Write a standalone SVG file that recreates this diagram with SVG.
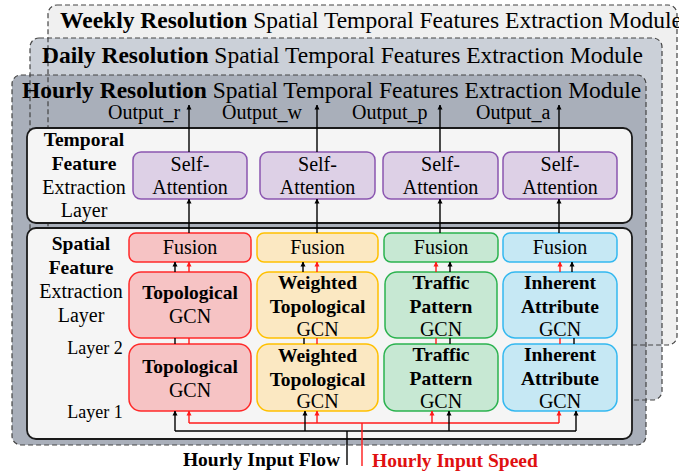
<svg xmlns="http://www.w3.org/2000/svg" width="679" height="474" viewBox="0 0 679 474" font-family="'Liberation Serif', 'Times New Roman', serif">
<defs>
<style>
text{font-family:'Liberation Serif','Times New Roman',serif;fill:#000}
.title{font-size:23.5px}
.b{font-weight:bold}
.lab{font-size:20px}
.blab{font-size:19.5px;font-weight:bold}
.sm{font-size:18px}
.dash{fill:none;stroke:#444;stroke-width:1.2;stroke-dasharray:5 3}
.panel{fill:#f5f5f5;stroke:#1a1a1a;stroke-width:1.8}
.sa{fill:#ddd0e6;stroke:#8a55b0;stroke-width:1.5}
.c1{fill:#f6c3c4;stroke:#ff2a2a;stroke-width:1.5}
.c2{fill:#fbe8c2;stroke:#ffc000;stroke-width:1.5}
.c3{fill:#c7e8d3;stroke:#2bb24f;stroke-width:1.5}
.c4{fill:#c6e8f4;stroke:#33b8f0;stroke-width:1.5}
.k{stroke:#000;stroke-width:1.4;fill:none}
.r{stroke:#ff1a1a;stroke-width:1.4;fill:none}
</style>
<marker id="ak" viewBox="0 0 10 10" refX="9" refY="5" markerWidth="5" markerHeight="6" markerUnits="userSpaceOnUse" orient="auto"><path d="M0,0 L10,5 L0,10 z" fill="#000"/></marker>
<marker id="ar" viewBox="0 0 10 10" refX="9" refY="5" markerWidth="5" markerHeight="6" markerUnits="userSpaceOnUse" orient="auto"><path d="M0,0 L10,5 L0,10 z" fill="#ff1a1a"/></marker>
</defs>

<g id="modules">
<rect x="48" y="5" width="629" height="340" rx="9" fill="#f0f0f0"/>
<rect x="30" y="38" width="632" height="362" rx="9" fill="#cbd0d8"/>
<rect x="12" y="75" width="634" height="370" rx="9" fill="#a9afba"/>
<rect class="dash" x="48" y="5" width="629" height="340" rx="9"/>
<rect class="dash" x="30" y="38" width="632" height="362" rx="9"/>
<rect class="dash" x="12" y="75" width="634" height="370" rx="9"/>
<text class="title" x="60" y="28"><tspan class="b">Weekly Resolution</tspan> Spatial Temporal Features Extraction Module</text>
<text class="title" x="42" y="63"><tspan class="b">Daily Resolution</tspan> Spatial Temporal Features Extraction Module</text>
<text class="title" x="22" y="98"><tspan class="b">Hourly Resolution</tspan> Spatial Temporal Features Extraction Module</text>
</g>

<g id="temporal-layer">
<rect class="panel" x="27" y="128" width="605" height="95" rx="9"/>
<text class="blab" x="84" y="146" text-anchor="middle">Temporal</text>
<text class="blab" x="84" y="170" text-anchor="middle">Feature</text>
<text class="lab" x="84" y="194" text-anchor="middle">Extraction</text>
<text class="lab" x="84" y="217" text-anchor="middle">Layer</text>
</g>

<g id="spatial-layer">
<rect class="panel" x="27" y="228" width="605" height="211" rx="9"/>
<text class="blab" x="81" y="250" text-anchor="middle">Spatial</text>
<text class="blab" x="81" y="274" text-anchor="middle">Feature</text>
<text class="lab" x="81" y="298" text-anchor="middle">Extraction</text>
<text class="lab" x="81" y="322" text-anchor="middle">Layer</text>
<text class="sm" x="95" y="354" text-anchor="middle">Layer 2</text>
<text class="sm" x="95" y="418" text-anchor="middle">Layer 1</text>
</g>

<g id="outputs">
<text class="lab" x="108" y="119">Output_r</text>
<text class="lab" x="222" y="119">Output_w</text>
<text class="lab" x="352" y="119">Output_p</text>
<text class="lab" x="476" y="119">Output_a</text>
</g>

<g id="sa1"><rect class="sa" x="133" y="152" width="114" height="47" rx="8"/><text class="lab" x="190" y="171" text-anchor="middle">Self-</text><text class="lab" x="190" y="194" text-anchor="middle">Attention</text></g>
<g id="sa2"><rect class="sa" x="260" y="152" width="115" height="47" rx="8"/><text class="lab" x="317.5" y="171" text-anchor="middle">Self-</text><text class="lab" x="317.5" y="194" text-anchor="middle">Attention</text></g>
<g id="sa3"><rect class="sa" x="383" y="152" width="115" height="47" rx="8"/><text class="lab" x="440.5" y="171" text-anchor="middle">Self-</text><text class="lab" x="440.5" y="194" text-anchor="middle">Attention</text></g>
<g id="sa4"><rect class="sa" x="503" y="152" width="114" height="47" rx="8"/><text class="lab" x="560" y="171" text-anchor="middle">Self-</text><text class="lab" x="560" y="194" text-anchor="middle">Attention</text></g>

<g id="fusion1"><rect class="c1" x="129" y="233" width="122" height="29" rx="7"/><text class="lab" x="190" y="254" text-anchor="middle">Fusion</text></g>
<g id="fusion2"><rect class="c2" x="257" y="233" width="121" height="29" rx="7"/><text class="lab" x="317.5" y="254" text-anchor="middle">Fusion</text></g>
<g id="fusion3"><rect class="c3" x="384" y="233" width="114" height="29" rx="7"/><text class="lab" x="441" y="254" text-anchor="middle">Fusion</text></g>
<g id="fusion4"><rect class="c4" x="503" y="233" width="114" height="29" rx="7"/><text class="lab" x="560" y="254" text-anchor="middle">Fusion</text></g>

<g id="gcn2-1"><rect class="c1" x="129" y="272" width="122" height="66" rx="12"/><text class="blab" x="190" y="299" text-anchor="middle">Topological</text><text class="lab" x="190" y="323" text-anchor="middle">GCN</text></g>
<g id="gcn2-2"><rect class="c2" x="257" y="272" width="121" height="66" rx="12"/><text class="blab" x="317.5" y="289" text-anchor="middle">Weighted</text><text class="blab" x="317.5" y="313" text-anchor="middle">Topological</text><text class="lab" x="317.5" y="336" text-anchor="middle">GCN</text></g>
<g id="gcn2-3"><rect class="c3" x="385" y="272" width="112" height="66" rx="12"/><text class="blab" x="441" y="289" text-anchor="middle">Traffic</text><text class="blab" x="441" y="313" text-anchor="middle">Pattern</text><text class="lab" x="441" y="336" text-anchor="middle">GCN</text></g>
<g id="gcn2-4"><rect class="c4" x="503" y="272" width="114" height="66" rx="12"/><text class="blab" x="560" y="289" text-anchor="middle">Inherent</text><text class="blab" x="560" y="313" text-anchor="middle">Attribute</text><text class="lab" x="560" y="336" text-anchor="middle">GCN</text></g>

<g id="gcn1-1"><rect class="c1" x="129" y="344" width="122" height="67" rx="12"/><text class="blab" x="190" y="373" text-anchor="middle">Topological</text><text class="lab" x="190" y="397" text-anchor="middle">GCN</text></g>
<g id="gcn1-2"><rect class="c2" x="257" y="344" width="121" height="67" rx="12"/><text class="blab" x="317.5" y="362" text-anchor="middle">Weighted</text><text class="blab" x="317.5" y="386" text-anchor="middle">Topological</text><text class="lab" x="317.5" y="408" text-anchor="middle">GCN</text></g>
<g id="gcn1-3"><rect class="c3" x="384" y="344" width="114" height="67" rx="12"/><text class="blab" x="441" y="361" text-anchor="middle">Traffic</text><text class="blab" x="441" y="385" text-anchor="middle">Pattern</text><text class="lab" x="441" y="408" text-anchor="middle">GCN</text></g>
<g id="gcn1-4"><rect class="c4" x="503" y="344" width="114" height="67" rx="12"/><text class="blab" x="560" y="361" text-anchor="middle">Inherent</text><text class="blab" x="560" y="385" text-anchor="middle">Attribute</text><text class="lab" x="560" y="408" text-anchor="middle">GCN</text></g>

<g id="connectors">
<line class="k" x1="189" y1="152" x2="189" y2="105" marker-end="url(#ak)"/>
<line class="k" x1="317" y1="152" x2="317" y2="105" marker-end="url(#ak)"/>
<line class="k" x1="440" y1="152" x2="440" y2="105" marker-end="url(#ak)"/>
<line class="k" x1="559" y1="152" x2="559" y2="105" marker-end="url(#ak)"/>
<line class="k" x1="189" y1="233" x2="189" y2="199" marker-end="url(#ak)"/>
<line class="k" x1="317" y1="233" x2="317" y2="199" marker-end="url(#ak)"/>
<line class="k" x1="440" y1="233" x2="440" y2="199" marker-end="url(#ak)"/>
<line class="k" x1="559" y1="233" x2="559" y2="199" marker-end="url(#ak)"/>

<line class="k" x1="175" y1="272" x2="175" y2="262" marker-end="url(#ak)"/>
<line class="r" x1="189" y1="272" x2="189" y2="262" marker-end="url(#ar)"/>
<line class="k" x1="303" y1="272" x2="303" y2="262" marker-end="url(#ak)"/>
<line class="r" x1="317" y1="272" x2="317" y2="262" marker-end="url(#ar)"/>
<line class="r" x1="436" y1="272" x2="436" y2="262" marker-end="url(#ar)"/>
<line class="k" x1="450" y1="272" x2="450" y2="262" marker-end="url(#ak)"/>
<line class="r" x1="560" y1="272" x2="560" y2="262" marker-end="url(#ar)"/>
<line class="k" x1="572" y1="272" x2="572" y2="262" marker-end="url(#ak)"/>

<line class="k" x1="175" y1="344" x2="175" y2="338"/>
<line class="r" x1="189" y1="344" x2="189" y2="338"/>
<line class="k" x1="304" y1="344" x2="304" y2="338"/>
<line class="r" x1="317" y1="344" x2="317" y2="338"/>
<line class="r" x1="436" y1="344" x2="436" y2="338"/>
<line class="k" x1="450" y1="344" x2="450" y2="338"/>
<line class="r" x1="560" y1="344" x2="560" y2="338"/>
<line class="k" x1="574" y1="344" x2="574" y2="338"/>

<polyline class="r" points="189,423 559,423"/>
<polyline class="k" points="175,431 576,431"/>
<line class="r" x1="189" y1="423" x2="189" y2="411" marker-end="url(#ar)"/>
<line class="r" x1="317" y1="423" x2="317" y2="411" marker-end="url(#ar)"/>
<line class="r" x1="432" y1="423" x2="432" y2="411" marker-end="url(#ar)"/>
<line class="r" x1="559" y1="423" x2="559" y2="411" marker-end="url(#ar)"/>
<line class="k" x1="175" y1="431" x2="175" y2="411" marker-end="url(#ak)"/>
<line class="k" x1="305" y1="431" x2="305" y2="411" marker-end="url(#ak)"/>
<line class="k" x1="449" y1="431" x2="449" y2="411" marker-end="url(#ak)"/>
<line class="k" x1="576" y1="431" x2="576" y2="411" marker-end="url(#ak)"/>
<line class="k" x1="347" y1="431" x2="347" y2="465" stroke-width="1.8"/>
<line class="r" x1="362" y1="423" x2="362" y2="466" stroke-width="1.8"/>
</g>

<g id="inputs">
<text class="b" x="340" y="466" font-size="19.5" text-anchor="end">Hourly Input Flow</text>
<text class="b" x="372" y="467" font-size="19.5" style="fill:#e01010">Hourly Input Speed</text>
</g>
</svg>
